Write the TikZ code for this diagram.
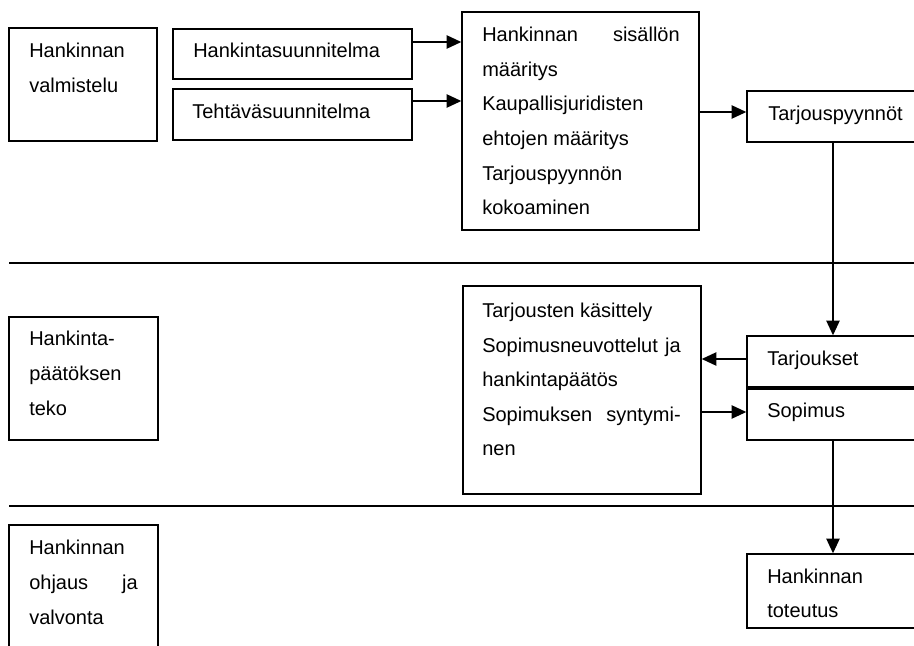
\documentclass[tikz,border=0pt]{standalone}
\usepackage{fontspec}
\setmainfont{Liberation Sans}
\usetikzlibrary{arrows.meta,fit}
\begin{document}
\begin{tikzpicture}[x=0.75pt,y=-0.75pt,
  box/.style={draw,line width=1.1pt,inner sep=0pt},
  txt/.style={anchor=base west,inner sep=0pt,font=\fontsize{15}{18}\selectfont},
  txte/.style={anchor=base east,inner sep=0pt,font=\fontsize{15}{18}\selectfont},
  arr/.style={line width=1.1pt,-{Triangle[length=11pt,width=10pt]}},
  sepline/.style={line width=1.1pt}]
\useasboundingbox (0,0) rectangle (914,646);
\clip (0,0) rectangle (914,646);
% boxes
\node[box, fit={(9,28) (157,141)}] (b1) {};
\node[box, fit={(173,29) (412,79)}] (hs) {};
\node[box, fit={(173,89) (412,140)}] (ts) {};
\node[box, fit={(462,12) (699,230)}] (big) {};
\node[box, fit={(747,91) (940,142)}] (tp) {};
\node[box, fit={(9,317) (158,440)}] (b2) {};
\node[box, fit={(463,286) (701,494)}] (tk) {};
\node[box, fit={(747,336) (940,387)}] (tj) {};
\node[box, fit={(747,387) (940,440)}] (sp) {};
\node[box, fit={(9,525) (158,660)}] (b3) {};
\node[box, fit={(747,554) (940,628)}] (tt) {};
% separators
\coordinate (s1a) at (9,263);
\coordinate (s1b) at (914,263);
\coordinate (s2a) at (9,506);
\coordinate (s2b) at (914,506);
\draw[sepline] (s1a) -- (s1b);
\draw[sepline] (s2a) -- (s2b);
\draw[line width=3pt] (tj.south west) -- (tj.south east);
% connectors
\coordinate (vx) at (833,0);
\draw[arr] (hs.east |- 0,42) -- (big.west |- 0,42);
\draw[arr] (ts.east |- 0,101) -- (big.west |- 0,101);
\draw[arr] (big.east |- 0,112) -- (tp.west |- 0,112);
\draw[arr] (tp.south -| vx) -- (tj.north -| vx);
\draw[arr] (tj.west |- 0,359) -- (tk.east |- 0,359);
\draw[arr] (tk.east |- 0,412) -- (sp.west |- 0,412);
\draw[arr] (sp.south -| vx) -- (tt.north -| vx);
% texts
\node[txt] (t1) at (29,57) {Hankinnan};
\node[txt] (t2) at (29,92) {valmistelu};
\node[txt] (t3) at (193,57) {Hankintasuunnitelma};
\node[txt] (t4) at (192,118) {Tehtäväsuunnitelma};
\node[txt] (t5) at (482,41) {Hankinnan};
\node[txte] (t6) at (680,41) {sisällön};
\node[txt] (t7) at (482,76) {määritys};
\node[txt] (t8) at (482,110) {Kaupallisjuridisten};
\node[txt] (t9) at (482,145) {ehtojen määritys};
\node[txt] (t10) at (482,180) {Tarjouspyynnön};
\node[txt] (t11) at (482,214) {kokoaminen};
\node[txt] (t12) at (768,120) {Tarjouspyynnöt};
\node[txt] (t13) at (29,345) {Hankinta-};
\node[txt] (t14) at (29,380) {päätöksen};
\node[txt] (t15) at (29,415) {teko};
\node[txt] (t16) at (482,317) {Tarjousten käsittely};
\node[txt] (t17) at (482,352) {Sopimusneuvottelut};
\node[txte] (t18) at (681,352) {ja};
\node[txt] (t19) at (482,386) {hankintapäätös};
\node[txt] (t20) at (482,421) {Sopimuksen};
\node[txte] (t21) at (681,421) {syntymi-};
\node[txt] (t22) at (482,455) {nen};
\node[txt] (t23) at (767,365) {Tarjoukset};
\node[txt] (t24) at (767,417) {Sopimus};
\node[txt] (t25) at (29,554) {Hankinnan};
\node[txt] (t26) at (29,589) {ohjaus};
\node[txte] (t27) at (138,589) {ja};
\node[txt] (t28) at (29,624) {valvonta};
\node[txt] (t29) at (767,583) {Hankinnan};
\node[txt] (t30) at (767,617) {toteutus};
\end{tikzpicture}
\end{document}
